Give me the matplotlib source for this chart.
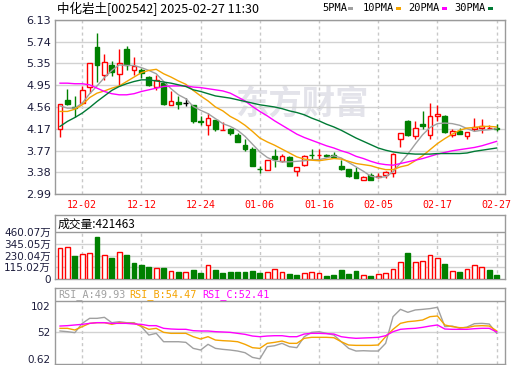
import matplotlib
matplotlib.use("Agg")
import matplotlib.pyplot as plt
from matplotlib.patches import Rectangle
import numpy as np

plt.rcParams['font.family'] = ['DejaVu Sans', 'Noto Sans CJK SC']

# ---------------- data ----------------
dates = ['12-02', '12-12', '12-24', '01-06', '01-16', '02-05', '02-17', '02-27']
date_idx = [3, 11, 19, 27, 35, 43, 51, 59]

opens = [4.16, 4.69, 4.56, 4.63, 4.92, 5.65, 5.13, 5.31, 5.16, 5.60,
         5.23, 5.23, 5.10, 4.92, 5.00, 4.60, 4.65, 4.63, 4.60, 4.31,
         4.24, 4.33, 4.14, 4.16, 4.06, 3.87, 3.80, 3.45, 3.42, 3.68,
         3.59, 3.65, 3.41, 3.51, 3.70, 3.69, 3.69, 3.70, 3.50, 3.45,
         3.38, 3.25, 3.33, 3.29, 3.33, 3.37, 3.98, 4.31, 4.04, 4.25,
         4.06, 4.40, 4.40, 4.06, 4.12, 4.04, 4.16, 4.18, 4.18, 4.18]
highs = [4.61, 4.89, 4.76, 4.94, 5.35, 5.90, 5.51, 5.39, 5.60, 5.66,
         5.46, 5.27, 5.12, 5.14, 5.02, 4.85, 4.75, 4.73, 4.60, 4.39,
         4.46, 4.33, 4.29, 4.19, 4.09, 3.98, 3.83, 3.50, 3.60, 3.80,
         3.71, 3.68, 3.48, 3.69, 3.80, 3.81, 3.72, 3.75, 3.60, 3.45,
         3.47, 3.32, 3.36, 3.36, 3.41, 3.73, 4.09, 4.33, 4.31, 4.49,
         4.63, 4.60, 4.42, 4.16, 4.18, 4.10, 4.37, 4.34, 4.24, 4.25]
lows = [4.02, 4.60, 4.38, 4.62, 4.82, 5.02, 5.05, 5.12, 4.94, 5.23,
        5.14, 5.08, 4.93, 4.86, 4.60, 4.60, 4.52, 4.57, 4.28, 4.24,
        4.06, 4.13, 4.14, 4.05, 3.92, 3.77, 3.50, 3.36, 3.42, 3.47,
        3.57, 3.50, 3.32, 3.50, 3.62, 3.62, 3.65, 3.65, 3.42, 3.30,
        3.27, 3.24, 3.24, 3.27, 3.27, 3.30, 3.83, 4.04, 3.99, 4.17,
        3.98, 4.30, 4.09, 4.01, 4.07, 3.98, 4.12, 4.09, 4.16, 4.13]
closes = [4.61, 4.62, 4.54, 4.87, 5.35, 5.31, 5.38, 5.20, 5.35, 5.32,
          5.30, 5.17, 4.95, 5.05, 4.61, 4.67, 4.62, 4.63, 4.31, 4.29,
          4.36, 4.16, 4.15, 4.09, 3.92, 3.80, 3.50, 3.44, 3.60, 3.63,
          3.68, 3.50, 3.48, 3.68, 3.69, 3.70, 3.67, 3.66, 3.44, 3.32,
          3.27, 3.30, 3.24, 3.31, 3.38, 3.72, 4.09, 4.06, 4.19, 4.22,
          4.39, 4.44, 4.10, 4.13, 4.08, 4.10, 4.20, 4.21, 4.19, 4.16]

ma5 = [4.58, 4.54, 4.54, 4.63, 4.80, 4.94, 5.09, 5.22, 5.32, 5.31,
       5.31, 5.27, 5.22, 5.16, 5.02, 4.89, 4.78, 4.71, 4.57, 4.50,
       4.44, 4.35, 4.26, 4.21, 4.14, 4.03, 3.89, 3.75, 3.65, 3.59,
       3.57, 3.57, 3.58, 3.59, 3.61, 3.61, 3.64, 3.68, 3.64, 3.56,
       3.48, 3.40, 3.31, 3.29, 3.30, 3.39, 3.55, 3.71, 3.89, 4.06,
       4.19, 4.26, 4.27, 4.26, 4.23, 4.17, 4.12, 4.14, 4.15, 4.17]
ma10 = [4.48, 4.48, 4.52, 4.60, 4.73, 4.81, 4.85, 4.90, 4.94, 5.02,
        5.10, 5.18, 5.22, 5.24, 5.16, 5.10, 5.03, 4.97, 4.86, 4.76,
        4.67, 4.56, 4.49, 4.39, 4.32, 4.23, 4.12, 4.00, 3.93, 3.87,
        3.80, 3.73, 3.66, 3.62, 3.60, 3.59, 3.61, 3.63, 3.62, 3.58,
        3.54, 3.52, 3.50, 3.46, 3.43, 3.43, 3.48, 3.51, 3.59, 3.68,
        3.79, 3.90, 3.99, 4.07, 4.14, 4.18, 4.19, 4.21, 4.21, 4.20]
ma20 = [4.99, 4.99, 4.98, 4.98, 4.96, 4.90, 4.84, 4.80, 4.78, 4.78,
        4.80, 4.84, 4.87, 4.90, 4.93, 4.94, 4.94, 4.94, 4.92, 4.91,
        4.89, 4.87, 4.85, 4.81, 4.74, 4.67, 4.57, 4.48, 4.40, 4.31,
        4.23, 4.15, 4.07, 4.01, 3.96, 3.91, 3.86, 3.82, 3.77, 3.73,
        3.67, 3.63, 3.58, 3.54, 3.52, 3.51, 3.54, 3.57, 3.60, 3.63,
        3.67, 3.71, 3.74, 3.77, 3.79, 3.81, 3.83, 3.86, 3.90, 3.94]
ma30 = [4.21, 4.30, 4.37, 4.45, 4.55, 4.66, 4.76, 4.86, 4.93, 4.98,
        5.02, 5.05, 5.05, 5.03, 5.01, 4.99, 4.96, 4.93, 4.87, 4.84,
        4.80, 4.76, 4.74, 4.72, 4.69, 4.66, 4.63, 4.60, 4.58, 4.56,
        4.53, 4.49, 4.46, 4.42, 4.36, 4.31, 4.25, 4.20, 4.14, 4.07,
        4.00, 3.94, 3.88, 3.82, 3.78, 3.75, 3.73, 3.72, 3.71, 3.71,
        3.71, 3.72, 3.72, 3.72, 3.72, 3.73, 3.76, 3.78, 3.80, 3.82]

volumes = [302, 312, 227, 246, 253, 417, 233, 210, 266, 236,
           161, 138, 121, 108, 108, 79, 69, 69, 89, 62,
           135, 89, 62, 69, 69, 69, 82, 56, 69, 95,
           66, 49, 39, 56, 66, 56, 30, 39, 89, 49,
           79, 36, 30, 49, 59, 99, 164, 256, 164, 174,
           233, 207, 148, 79, 69, 99, 135, 115, 89, 42.15]  # 万

rsi_a = [54.2, 52.9, 51.0, 68.8, 78.4, 78.4, 80.3, 70.1, 72.0, 70.1,
         70.1, 62.4, 46.5, 49.7, 33.7, 33.7, 33.7, 32.5, 21.0, 17.8,
         28.7, 21.0, 19.1, 17.8, 15.9, 12.7, 3.8, 1.0, 24.2, 26.1,
         30.6, 24.2, 22.3, 43.3, 51.6, 52.9, 49.7, 46.5, 33.7, 21.0,
         15.9, 16.5, 15.9, 15.9, 30.6, 81.6, 95.6, 89.9, 94.4, 95.6,
         97.0, 99.5, 62.5, 63.7, 59.3, 61.8, 68.2, 68.8, 67.6, 49.93]
rsi_b = [59.3, 59.3, 56.1, 62.5, 68.8, 70.1, 70.1, 66.9, 70.1, 68.8,
         68.8, 63.7, 57.4, 59.3, 51.6, 49.7, 49.7, 49.7, 43.3, 38.9,
         43.3, 36.9, 35.7, 35.0, 33.7, 28.7, 22.3, 21.0, 30.6, 32.5,
         35.0, 30.6, 30.6, 40.2, 42.1, 42.1, 42.1, 41.4, 33.7, 27.4,
         26.7, 26.7, 26.7, 27.4, 43.3, 57.4, 68.8, 72.0, 73.3, 75.2,
         81.6, 82.9, 65.7, 62.5, 60.6, 60.6, 63.7, 64.4, 63.7, 54.47]
rsi_c = [63.7, 64.4, 65.7, 66.9, 68.8, 70.1, 70.1, 68.8, 68.8, 68.8,
         67.6, 66.9, 64.4, 64.4, 59.3, 58.0, 57.4, 57.4, 54.8, 54.2,
         54.2, 52.9, 52.3, 51.6, 49.7, 47.8, 44.6, 43.3, 44.6, 45.2,
         45.2, 43.3, 43.3, 48.4, 49.7, 49.7, 49.1, 48.4, 43.3, 41.4,
         40.2, 40.8, 41.4, 42.1, 45.2, 52.9, 57.4, 58.6, 59.3, 61.2,
         63.7, 65.7, 58.0, 57.4, 57.4, 57.4, 58.6, 59.3, 59.3, 52.41]

price_ticks = [6.13, 5.74, 5.35, 4.95, 4.56, 4.17, 3.77, 3.38, 2.99]
vol_ticks = [0, 115.02, 230.04, 345.05, 460.07]
vol_labels = ['0', '115.02万', '230.04万', '345.05万', '460.07万']
rsi_ticks = [0.62, 52, 102]
rsi_labels = ['0.62', '52', '102']

title = '中化岩土[002542] 2025-02-27 11:30'
vol_title = '成交量:421463'
legend_names = ['5PMA', '10PMA', '20PMA', '30PMA']

# ---------------- style ----------------
RED = '#ff0000'
GRN = '#008000'
MA_COLORS = ['#a0a0a0', '#f4a300', '#ff00ff', '#007a35']
SPINE = '#9a9a9a'
HGRID = '#d2d2d2'
VGRID = '#c8c8c8'
LBL = '#1c1c3c'
DASH = (0, (2.2, 2.2))

W, H = 520, 365
fig = plt.figure(figsize=(W / 100, H / 100), dpi=100)


def box(l, t, r, b):
    return [l / W, 1 - b / H, (r - l) / W, (b - t) / H]


ax = fig.add_axes(box(55, 20, 505, 194))
axv = fig.add_axes(box(55, 215, 505, 279))
axr = fig.add_axes(box(55, 288, 505, 364))

n = len(closes)
x = np.arange(n)
XL = (-0.68, 60.13)
bw = 0.66

for a in (ax, axv, axr):
    a.set_xlim(*XL)
    for s in a.spines.values():
        s.set_color(SPINE)
        s.set_linewidth(1)
    a.tick_params(length=0, colors=LBL)

# ---------------- main price panel ----------------
ax.set_ylim(2.99, 6.13)
ax.set_yticks(price_ticks)
ax.set_yticklabels([f'{t:.2f}' for t in price_ticks], fontsize=8, color=LBL)
ax.tick_params(axis='y', pad=3)
ax.set_xticks(date_idx)
ax.set_xticklabels(dates, fontsize=7.2, color=RED, family='DejaVu Sans Mono')
ax.tick_params(axis='x', pad=4, colors=RED)
ax.yaxis.grid(True, color=HGRID, lw=1, ls='-')
ax.xaxis.grid(True, color=VGRID, lw=1, ls=DASH)
ax.set_axisbelow(True)

ax.text(32.7, 4.60, '东方财富', fontsize=24, color='#e3e3ea', weight='bold',
        ha='center', va='center', family=['Noto Sans CJK SC'], zorder=0.5)

for i in x:
    o, h, l, c = opens[i], highs[i], lows[i], closes[i]
    if c > o:
        col, fc = RED, 'white'
    elif c < o:
        col, fc = GRN, GRN
    else:
        col, fc = 'black', 'black'
    ax.vlines(i, l, h, color=col, lw=1, zorder=3)
    if c != o:
        ax.add_patch(Rectangle((i - bw / 2, min(o, c)), bw, abs(c - o),
                               facecolor=fc, edgecolor=col, lw=1, zorder=4))
    else:
        ax.hlines(o, i - bw / 2, i + bw / 2, color=col, lw=1, zorder=4)

for ma, colr in zip([ma5, ma10, ma20, ma30], MA_COLORS):
    ax.plot(x, ma, color=colr, lw=1, zorder=5)

# ---------------- volume panel ----------------
axv.set_ylim(0, 630.5)
axv.set_yticks(vol_ticks)
axv.set_yticklabels(vol_labels, fontsize=7.5, color=LBL)
axv.tick_params(axis='y', pad=3)
axv.set_xticks([])
for t in vol_ticks[1:-1]:
    axv.axhline(t, color=HGRID, lw=1, zorder=0)
axv.axhline(vol_ticks[-1], color=SPINE, lw=1, zorder=1)
axv.vlines(date_idx, 0, vol_ticks[-1], color=VGRID, lw=1, linestyles=DASH, zorder=0)
for i in x:
    prev = closes[i - 1] if i > 0 else opens[i]
    if closes[i] >= prev:
        axv.bar(i, volumes[i], width=bw, facecolor='white', edgecolor=RED, lw=1, zorder=3)
    else:
        axv.bar(i, volumes[i], width=bw, facecolor=GRN, edgecolor=GRN, lw=1, zorder=3)
axv.text(0.006, 0.86, vol_title, transform=axv.transAxes, fontsize=8.5,
         family=['Noto Sans CJK SC'], color='black', va='center', ha='left')

# ---------------- RSI panel ----------------
axr.set_ylim(-8.9, 136.4)
axr.set_yticks(rsi_ticks)
axr.set_yticklabels(rsi_labels, fontsize=7.5, color=LBL)
axr.tick_params(axis='y', pad=3)
axr.set_xticks([])
axr.axhline(52, color=HGRID, lw=1, zorder=0)
axr.axhline(111.5, color=SPINE, lw=1, zorder=1)
axr.vlines(date_idx, -8.9, 111.5, color=VGRID, lw=1, linestyles=DASH, zorder=0)
for series, colr in zip([rsi_a, rsi_b, rsi_c], [MA_COLORS[0], MA_COLORS[1], MA_COLORS[2]]):
    axr.plot(x, series, color=colr, lw=1, zorder=3)
rsi_heads = [('RSI_A', rsi_a[-1], MA_COLORS[0], 58),
             ('RSI_B', rsi_b[-1], MA_COLORS[1], 129),
             ('RSI_C', rsi_c[-1], MA_COLORS[2], 202)]
for name, val, colr, px in rsi_heads:
    fig.text(px / W, 1 - 295 / H, f'{name}:{val:.2f}', fontsize=7.3,
             family='DejaVu Sans Mono', color=colr, va='center', ha='left')

# ---------------- title and legend ----------------
fig.text(57 / W, 1 - 8.5 / H, title, fontsize=9, family=['Noto Sans CJK SC'],
         color='black', va='center', ha='left')
leg_text_x = [322, 363, 408, 454]
leg_sq_x = [348, 396, 442, 488]
for name, tx, sx, colr in zip(legend_names, leg_text_x, leg_sq_x, MA_COLORS):
    fig.text(tx / W, 1 - 8 / H, name, fontsize=7.5, family='DejaVu Sans Mono',
             color='black', va='center', ha='left')
    fig.add_artist(Rectangle((sx / W, 1 - 9.5 / H), 5 / W, 3 / H,
                             transform=fig.transFigure, facecolor=colr, edgecolor='none'))

fig.savefig('out.png', dpi=100)
